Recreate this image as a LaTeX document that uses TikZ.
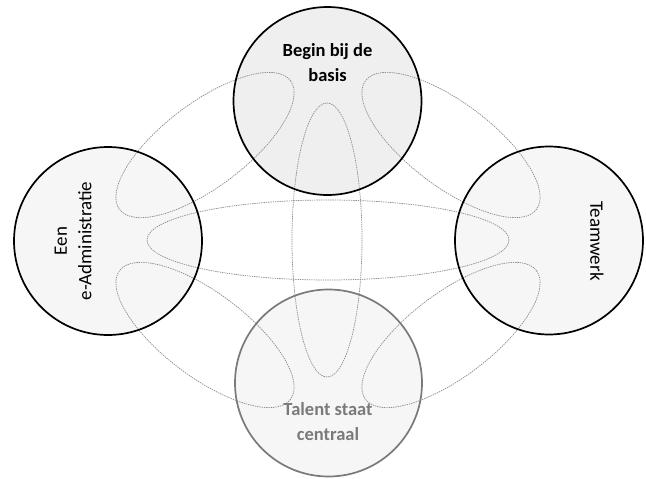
\documentclass[tikz,border=0pt]{standalone}
\usepackage{fontspec}
\setmainfont{Carlito}
\definecolor{fillTop}{HTML}{EFEFEF}
\definecolor{fillOther}{HTML}{F6F6F6}
\definecolor{dotgray}{HTML}{8C8C8C}
\definecolor{softgray}{HTML}{7A7A7A}
\begin{document}
\begin{tikzpicture}[x=1pt,y=-1pt,
  disc/.style={circle, minimum size=188pt, inner sep=0pt, fill=#1},
  rim/.style={line width=1.7pt, draw=black},
  dots/.style={draw=dotgray, line width=0.7pt, dash pattern=on 1.4pt off 0.9pt},
  lbl/.style={font=\fontsize{19}{24.5}\selectfont, align=center, inner sep=0pt}]
\useasboundingbox[fill=white] (0,0) rectangle (646,479);
% discs
\node[disc=fillTop]   (top)    at (327.5,101) {};
\node[disc=fillOther] (left)   at (108,241)   {};
\node[disc=fillOther] (right)  at (549,240.5) {};
\node[disc=fillOther] (bottom) at (328.5,383) {};
% dotted shapes
\draw[dots] (328,240) ellipse [x radius=181, y radius=40];
\draw[dots] (327,240) ellipse [x radius=35, y radius=137];
\draw[dots, rotate around={37:(205,145)}]  (205,145) ellipse [x radius=107, y radius=42];
\draw[dots, rotate around={-37:(451,145)}] (451,145) ellipse [x radius=107, y radius=42];
\draw[dots, rotate around={-37:(205,335)}] (205,335) ellipse [x radius=107, y radius=42];
\draw[dots, rotate around={37:(451,335)}]  (451,335) ellipse [x radius=107, y radius=42];
% outlines
\draw[rim] (top) circle [radius=94];
\draw[rim] (left) circle [radius=94];
\draw[rim] (right) circle [radius=94];
\draw[rim, draw=softgray] (bottom) circle [radius=93.5];
% labels
\node[lbl, font=\fontsize{18.5}{25}\selectfont\bfseries] (ttop) at (327.5,63) {Begin bij de\\basis};
\node[lbl, rotate=90] (tleft) at (73,241) {Een\\e-Administratie};
\node[lbl, rotate=-90] (tright) at (597,241) {Teamwerk};
\node[lbl, font=\fontsize{18.5}{25}\selectfont\bfseries, text=softgray] (tbot) at (328,422) {Talent staat\\centraal};
\end{tikzpicture}
\end{document}
